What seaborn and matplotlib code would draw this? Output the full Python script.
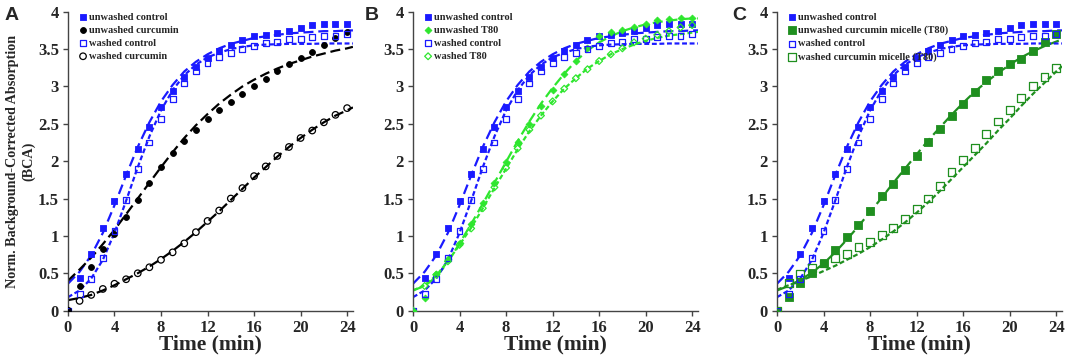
import numpy as np
import pandas as pd
import seaborn as sns
import matplotlib.pyplot as plt

# time points (min)
t = list(range(25))
t_fit = list(range(25)) + [24.5]

# measured points
unwashed_control = [0, 0.43, 0.76, 1.11, 1.47, 1.83, 2.16, 2.46, 2.72, 2.94, 3.13, 3.26, 3.38, 3.48, 3.55,
                    3.62, 3.67, 3.69, 3.71, 3.74, 3.78, 3.82, 3.83, 3.83, 3.83]
washed_control = [0, 0.22, 0.42, 0.70, 1.07, 1.48, 1.90, 2.25, 2.56, 2.83, 3.04, 3.20, 3.31, 3.39, 3.45,
                  3.50, 3.54, 3.58, 3.60, 3.63, 3.64, 3.66, 3.67, 3.68, 3.70]
unwashed_curcumin = [0, 0.33, 0.59, 0.82, 1.03, 1.25, 1.48, 1.71, 1.92, 2.11, 2.27, 2.42, 2.56, 2.68, 2.79,
                     2.90, 3.01, 3.10, 3.20, 3.30, 3.38, 3.46, 3.56, 3.65, 3.73]
washed_curcumin = [0, 0.13, 0.21, 0.29, 0.36, 0.42, 0.50, 0.58, 0.68, 0.78, 0.90, 1.05, 1.20, 1.34, 1.50,
                   1.64, 1.80, 1.93, 2.07, 2.19, 2.31, 2.41, 2.52, 2.62, 2.71]
unwashed_t80 = [0, 0.17, 0.49, 0.69, 0.90, 1.16, 1.44, 1.71, 1.99, 2.26, 2.50, 2.74, 2.95, 3.16, 3.34,
                3.52, 3.67, 3.73, 3.75, 3.79, 3.84, 3.89, 3.90, 3.91, 3.91]
washed_t80 = [0, 0.33, 0.48, 0.66, 0.88, 1.10, 1.37, 1.65, 1.91, 2.17, 2.42, 2.61, 2.80, 2.97, 3.11,
              3.23, 3.34, 3.43, 3.51, 3.59, 3.64, 3.69, 3.74, 3.79, 3.82]
unwashed_micelle = [0, 0.18, 0.37, 0.51, 0.64, 0.81, 0.98, 1.15, 1.33, 1.53, 1.70, 1.88, 2.07, 2.26, 2.43,
                    2.61, 2.77, 2.92, 3.08, 3.21, 3.30, 3.37, 3.48, 3.60, 3.70]
washed_micelle = [0, 0.37, 0.49, 0.57, 0.63, 0.70, 0.76, 0.85, 0.92, 1.01, 1.11, 1.23, 1.36, 1.50, 1.67,
                  1.85, 2.02, 2.18, 2.36, 2.53, 2.69, 2.85, 3.01, 3.13, 3.25]

# fitted curves
unwashed_control_fit = [0.36, 0.52, 0.74, 1.04, 1.41, 1.81, 2.19, 2.52, 2.80, 3.02, 3.20, 3.33, 3.43, 3.51,
                        3.57, 3.61, 3.65, 3.67, 3.69, 3.71, 3.72, 3.73, 3.74, 3.74, 3.75, 3.75]
washed_control_fit = [0.18, 0.27, 0.43, 0.68, 1.04, 1.47, 1.92, 2.33, 2.68, 2.95, 3.15, 3.29, 3.39, 3.45,
                      3.50, 3.53, 3.55, 3.56, 3.565, 3.57, 3.57, 3.57, 3.575, 3.575, 3.575, 3.575]
unwashed_curcumin_fit = [0.40, 0.55, 0.71, 0.89, 1.08, 1.29, 1.50, 1.71, 1.92, 2.12, 2.31, 2.48, 2.63, 2.77,
                         2.89, 3.00, 3.09, 3.17, 3.24, 3.30, 3.35, 3.40, 3.44, 3.48, 3.51, 3.53]
washed_curcumin_fit = [0.14, 0.17, 0.21, 0.27, 0.34, 0.42, 0.50, 0.59, 0.69, 0.80, 0.92, 1.05, 1.19, 1.33,
                       1.48, 1.63, 1.78, 1.92, 2.06, 2.19, 2.31, 2.42, 2.52, 2.61, 2.68, 2.72]
unwashed_t80_fit = [0.27, 0.33, 0.45, 0.65, 0.90, 1.16, 1.43, 1.71, 1.99, 2.27, 2.53, 2.77, 2.98, 3.17,
                    3.34, 3.48, 3.59, 3.67, 3.74, 3.79, 3.83, 3.86, 3.88, 3.90, 3.91, 3.91]
washed_t80_fit = [0.27, 0.34, 0.47, 0.66, 0.88, 1.11, 1.37, 1.64, 1.90, 2.16, 2.40, 2.61, 2.80, 2.97,
                  3.11, 3.24, 3.34, 3.43, 3.50, 3.56, 3.61, 3.65, 3.68, 3.70, 3.72, 3.73]
unwashed_micelle_fit = [0.27, 0.33, 0.41, 0.51, 0.63, 0.78, 0.95, 1.13, 1.32, 1.51, 1.71, 1.90, 2.09, 2.28,
                        2.45, 2.62, 2.78, 2.93, 3.06, 3.18, 3.29, 3.39, 3.47, 3.54, 3.60, 3.63]
washed_micelle_fit = [0.28, 0.34, 0.40, 0.46, 0.53, 0.60, 0.68, 0.76, 0.85, 0.95, 1.06, 1.18, 1.31, 1.45,
                      1.60, 1.76, 1.92, 2.08, 2.24, 2.41, 2.57, 2.74, 2.90, 3.05, 3.20, 3.27]

blue = '#1a1aff'
green = '#2ee62e'
dkgreen = '#1f8f1f'
long_dash = (0, (4.5, 2.2))
short_dash = (0, (2.2, 1.2))

# (label, points, fit, color, marker, filled, marker size, dash)
ctrl = [('unwashed control', unwashed_control, unwashed_control_fit, blue, 's', True, 18, long_dash),
        ('washed control', washed_control, washed_control_fit, blue, 's', False, 18, short_dash)]
panels = [
    ('A', [ctrl[0],
           ('unwashed curcumin', unwashed_curcumin, unwashed_curcumin_fit, 'black', 'o', True, 18, long_dash),
           ctrl[1],
           ('washed curcumin', washed_curcumin, washed_curcumin_fit, 'black', 'o', False, 22, long_dash)]),
    ('B', [ctrl[0],
           ('unwashed T80', unwashed_t80, unwashed_t80_fit, green, 'D', True, 12, long_dash),
           ctrl[1],
           ('washed T80', washed_t80, washed_t80_fit, green, 'D', False, 12, short_dash)]),
    ('C', [ctrl[0],
           ('unwashed curcumin micelle (T80)', unwashed_micelle, unwashed_micelle_fit, dkgreen, 's', True, 32, long_dash),
           ctrl[1],
           ('washed curcumin micelle (T80)', washed_micelle, washed_micelle_fit, dkgreen, 's', False, 32, short_dash)]),
]

sns.set_theme(style='ticks')
plt.rcParams['font.family'] = ['Liberation Serif', 'DejaVu Serif']
plt.rcParams['font.weight'] = 'bold'

fig = plt.figure(figsize=(10.65, 3.55), dpi=100)
lefts = [0.0638, 0.3878, 0.7296]
letter_x = [5, 365, 732]

for (letter, series), left, lx in zip(panels, lefts, letter_x):
    ax = fig.add_axes([left, 0.125, 0.2676, 0.842])
    # fits first, points on top
    for label, pts, fit, col, mk, filled, ms, dash in series:
        sns.lineplot(x=t_fit, y=fit, ax=ax, color=col, linewidth=1.6, linestyle=dash, zorder=2)
    for label, pts, fit, col, mk, filled, ms, dash in series:
        if filled:
            sns.scatterplot(x=t, y=pts, ax=ax, marker=mk, s=ms, color=col, edgecolor=col,
                            linewidth=0.6, label=label, zorder=3)
        else:
            sns.scatterplot(x=t, y=pts, ax=ax, marker=mk, s=ms, facecolor='none', edgecolor=col,
                            linewidth=0.9, label=label, zorder=3)
    ax.set_xlim(0, 24.5)
    ax.set_ylim(0, 4)
    ax.set_xticks(range(0, 25, 4))
    ax.set_yticks(np.arange(0, 4.01, 0.5))
    ax.set_yticklabels(['0', '0.5', '1', '1.5', '2', '2.5', '3', '3.5', '4'])
    ax.tick_params(labelsize=12, length=3.5, width=1, color='#444444', pad=3)
    for lab in ax.get_xticklabels() + ax.get_yticklabels():
        lab.set_fontweight('bold')
    for sp in ['left', 'bottom']:
        ax.spines[sp].set_color('#444444')
        ax.spines[sp].set_linewidth(1)
    sns.despine(ax=ax)
    ax.set_xlabel('Time (min)', fontsize=15.5, fontweight='bold', labelpad=-1)
    ax.set_ylabel('')
    leg = ax.legend(loc='upper left', bbox_to_anchor=(0.02, 1.01), frameon=False, fontsize=7.5,
                    handletextpad=0.05, handlelength=1.0, labelspacing=0.35, borderaxespad=0)
    for txt in leg.get_texts():
        txt.set_fontweight('bold')
    fig.text(lx / 1065, 1 - 15 / 355, letter, fontsize=14, fontweight='bold',
             family='Liberation Sans', ha='left', va='center')

fig.axes[0].set_ylabel('Norm. Background-Corrected Absorption\n(BCA)', fontsize=10.2,
                       fontweight='bold', labelpad=2, linespacing=1.25)

plt.savefig('out.png', dpi=100)
